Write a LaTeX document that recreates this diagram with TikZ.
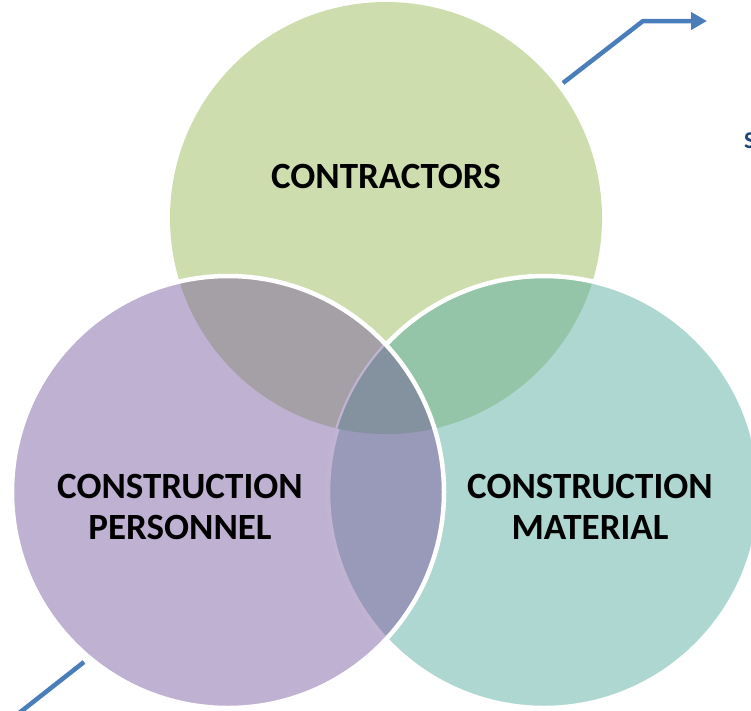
\documentclass[tikz,border=0pt]{standalone}
\usepackage{fontspec}
\setmainfont{Carlito}
\usetikzlibrary{arrows.meta}
\definecolor{green1}{RGB}{206,221,174}
\definecolor{purple1}{RGB}{191,177,209}
\definecolor{teal1}{RGB}{174,215,209}
\definecolor{topleft}{RGB}{165,159,166}
\definecolor{topright}{RGB}{148,197,168}
\definecolor{leftright}{RGB}{153,153,186}
\definecolor{middle}{RGB}{132,145,159}
\definecolor{band}{RGB}{193,180,211}
\definecolor{arrowblue}{RGB}{74,126,187}
\definecolor{textblue}{RGB}{31,73,125}
\tikzset{
  label/.style={anchor=base, align=center, inner sep=0, font=\bfseries\fontsize{37}{41}\selectfont},
  rim/.style={white, line width=4.5},
  link/.style={arrowblue, line width=4.5}
}
\begin{document}
\begin{tikzpicture}[x=1pt, y=-1pt, line join=round, >={Triangle[length=16pt,width=17pt]}]
	\def\r{216}
	\useasboundingbox (0,0) rectangle (751,710);
	\coordinate (top) at (386,218);
	\coordinate (left) at (228,492);
	\coordinate (right) at (544,492);
	% top and right circles
	\fill[green1] (top) circle (\r);
	\fill[teal1] (right) circle (\r);
	\begin{scope}
		\clip (top) circle (\r);
		\fill[topright] (right) circle (\r);
	\end{scope}
	\draw[rim] (right) circle (\r);
	% left circle over both
	\fill[purple1] (left) circle (\r);
	\begin{scope}
		\clip (left) circle (\r);
		\fill[topleft] (top) circle (\r);
		\fill[leftright] (right) circle (\r);
		\draw[band, line width=4.5] (right) circle (\r);
		\clip (top) circle (\r);
		\fill[middle] (right) circle (\r);
	\end{scope}
	\draw[rim] (left) circle (\r);
	% labels (base = last line)
	\node[label] (contractors) at (386,188) {CONTRACTORS};
	\node[label] (personnel) at (180,539) {CONSTRUCTION\\PERSONNEL};
	\node[label] (material) at (590,539) {CONSTRUCTION\\MATERIAL};
	\node[anchor=base west, inner sep=0, textblue, font=\bfseries\fontsize{24}{28}\selectfont] (cut) at (744,148) {S};
	% blue connectors
	\coordinate (a1) at (563,83); \coordinate (a2) at (643,21); \coordinate (a3) at (707,21);
	\draw[link, ->] (a1) -- (a2) -- (a3);
	\coordinate (b1) at (84,662); \coordinate (b2) at (14,717);
	\draw[link] (b1) -- (b2);
\end{tikzpicture}
\end{document}
